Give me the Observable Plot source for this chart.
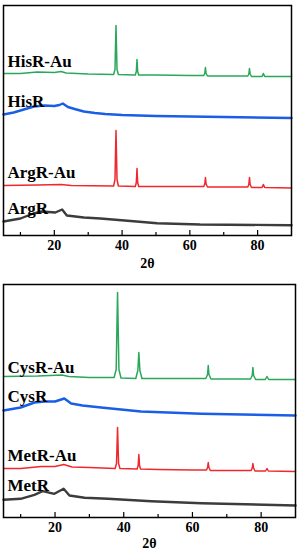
<!DOCTYPE html>
<html><head><meta charset="utf-8">
<script src="https://cdn.jsdelivr.net/npm/d3@7"></script>
<script src="https://cdn.jsdelivr.net/npm/@observablehq/plot@0.6"></script>
<style>body{margin:0;background:#fff} svg{display:block}</style>
</head><body><div id="chart"></div>
<script>
// 2θ axis
const xDomain = [5, 90];
const majorTicks = [20, 40, 60, 80];
const minorTicks = [10, 30, 50, 70];

// Series names, colours, label levels (intensity, a.u.)
const topNames = ["HisR-Au", "HisR", "ArgR-Au", "ArgR"];
const topLabelY = [169, 129, 58, 22];
const bottomNames = ["CysR-Au", "CysR", "MetR-Au", "MetR"];
const bottomLabelY = [145, 116, 57, 27];
const colors = ["#2aa85a", "#1a5ee6", "#f0282d", "#3c3c3c"];
const widths = [1.5, 2.4, 1.5, 2.4];

// Patterns: [2θ, intensity (offset, a.u.)]
const hisRAu = [[5,162],[10,162],[15,163.5],[20,163],[22,164],[23.5,162.5],[30,161.5],[37.5,161],[37.9,166],[38.2,210],[38.5,166],[38.9,161],[43.9,160.5],[44.2,164],[44.4,176],[44.6,164],[44.9,160.5],[50,160.5],[60,160],[64.1,160],[64.4,162],[64.6,168],[64.8,162],[65.2,159.5],[70,159.5],[77.1,159.5],[77.4,161.5],[77.6,167],[77.8,161.5],[78.2,159],[81.3,159],[81.7,162],[82.1,159],[90,159]];
const hisR = [[5,121],[8,123],[11,126],[14,129],[17,130],[20,129.5],[21.5,130.5],[22.5,132],[24,128.5],[26,126.5],[28.7,124],[32,122.5],[35,121.5],[40,120.5],[50,119.5],[70,118.5],[90,117.5]];
const argRAu = [[5,50],[15,50.5],[22,51],[25,50],[37.5,49.5],[37.9,56],[38.2,105],[38.5,56],[38.9,49.5],[43.9,49],[44.2,53],[44.4,67],[44.6,53],[44.9,49],[50,49],[60,49],[64.1,49],[64.4,51.5],[64.6,58],[64.8,51.5],[65.2,48.5],[70,48.5],[77.1,48.5],[77.4,51],[77.6,58],[77.8,51],[78.2,48],[81.3,48],[81.7,51],[82.1,48],[90,47.5]];
const argR = [[5,14],[10,17],[13.8,22],[16.4,24],[20.3,23],[22.3,26],[23.7,20],[28.7,18],[33.6,17],[43.4,14.3],[50.3,12.3],[63,11],[90,10.3]];

const cysRAu = [[5,141],[15,141.5],[22,142.5],[24,141],[30,140],[37.2,140],[37.8,148],[38.2,225],[38.6,148],[39.2,139.5],[43.5,139],[44.1,147],[44.4,165],[44.7,147],[45.3,139],[50,139],[60,139],[63.9,139],[64.4,143],[64.6,152],[64.8,143],[65.4,138.5],[70,138.5],[76.9,138.5],[77.4,142],[77.6,150],[77.8,142],[78.4,138],[81.2,138],[81.7,141],[82.2,138],[90,138]];
const cysR = [[5,107],[10,110],[14,115],[17,116],[20,116],[22.7,119],[24.7,114],[28,112],[33.4,110],[45,106],[62.6,103.7],[90,102]];
const metRAu = [[5,49],[10,49],[16,51],[20,51],[22.5,53],[25,50.5],[30,50],[37.5,49],[37.9,54],[38.2,90],[38.5,54],[38.9,49],[43.9,48.5],[44.2,52],[44.4,63],[44.6,52],[44.9,48.5],[50,48],[60,47.5],[64.1,47.5],[64.4,50],[64.6,55],[64.8,50],[65.2,47],[70,47],[77.1,47],[77.4,49.5],[77.6,54],[77.8,49.5],[78.2,46.5],[81.3,46.5],[81.7,49],[82.1,46.5],[90,46]];
const metR = [[5,17.7],[10,18.7],[14,22.7],[16.4,26.3],[19.8,23.7],[22.5,28.7],[24.2,22],[28.6,19.7],[35.4,18.7],[48,16.3],[62.6,14.3],[90,12]];

const serif = "Liberation Serif, Times New Roman, serif";

function panel(names, labelY, patterns, o) {
  const labels = names.map((name, i) => ({name, y: labelY[i]}));
  return Plot.plot({
    width: 300, height: o.height,
    marginTop: o.mt, marginBottom: o.mb, marginLeft: o.ml, marginRight: o.mr,
    x: {domain: xDomain},
    y: {domain: o.yDomain, axis: null},
    style: {fontFamily: serif, fontSize: "13px", background: "white", color: "black"},
    marks: [
      ...patterns.map((p, i) => Plot.line(p, {x: d => d[0], y: d => d[1], stroke: colors[i], strokeWidth: widths[i]})),
      Plot.text(labels, {frameAnchor: "left", y: "y", text: "name", dx: 4, textAnchor: "start", lineAnchor: "bottom", fontWeight: "bold", fontSize: 17, fill: "black"}),
      Plot.axisX({ticks: majorTicks, tickSize: -5, fill: "none", label: null, strokeWidth: 1.2}),
      Plot.axisX({ticks: minorTicks, tickSize: -3, fill: "none", label: null, strokeWidth: 1.2}),
      Plot.axisX({ticks: majorTicks, tickSize: 0, tickPadding: 5, fontSize: 14, fontWeight: "bold", label: "2θ", labelAnchor: "center", labelArrow: "none", labelOffset: o.labelOffset}),
      Plot.frame({stroke: "black", strokeWidth: 1.5})
    ]
  });
}

const chart = document.getElementById("chart");
chart.append(panel(topNames, topLabelY, [hisRAu, hisR, argRAu, argR],
  {height: 270, mt: 5, mb: 35, ml: 3, mr: 9, yDomain: [0, 230], labelOffset: 32}));
chart.append(panel(bottomNames, bottomLabelY, [cysRAu, cysR, metRAu, metR],
  {height: 280, mt: 14, mb: 33, ml: 3, mr: 5, yDomain: [0, 233], labelOffset: 30}));
</script>
</body></html>
